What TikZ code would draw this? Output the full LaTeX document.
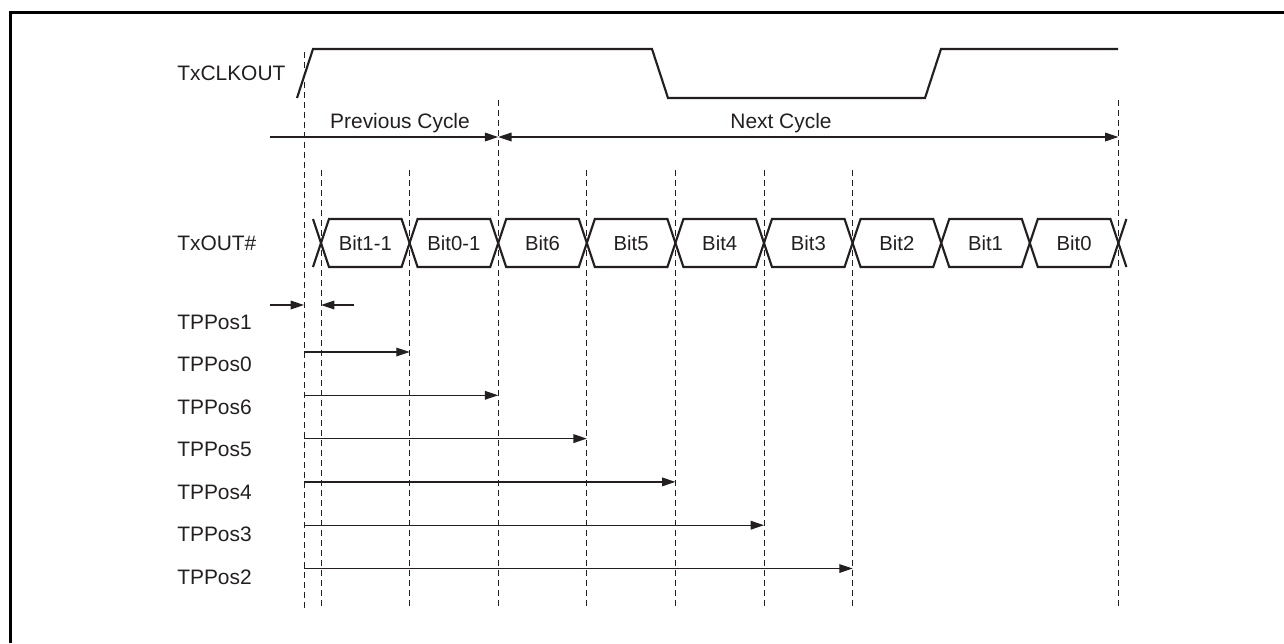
\documentclass[tikz,border=0pt]{standalone}
\usepackage{fontspec}
\setmainfont{Liberation Sans}
\usetikzlibrary{arrows.meta,calc}
\definecolor{ink}{HTML}{231F20}
\begin{document}
\begin{tikzpicture}[x=0.75pt,y=-0.75pt,
  every node/.style={font=\fontsize{15.7}{18}\selectfont, text=ink, inner sep=0pt},
  bitlabel/.style={font=\fontsize{15.2}{18}\selectfont},
  sig/.style={draw=ink, line width=1.6pt, line join=miter},
  gridline/.style={draw=ink, line width=0.75pt, dash pattern=on 4.5pt off 3pt},
  dim/.style={draw=ink, line width=0.9pt, -{Triangle[length=10pt,width=6.5pt]}},
  dimboth/.style={draw=ink, line width=0.9pt, {Triangle[length=10pt,width=6.5pt]}-{Triangle[length=10pt,width=6.5pt]}},
  rowlabel/.style={anchor=west}
]
\useasboundingbox (0,0) rectangle (1284,643);
% frame
\draw[line width=2.5pt] (10.5,643) -- (10.5,12.5) -- (1284,12.5);

% clock
\draw[sig] (297,98) -- (313,49) -- (652,49) -- (668,98) -- (925,98) -- (941,49) -- (1118,49);

% grid coordinates
\coordinate (c) at (304,0);
\foreach \i in {0,...,9} {
  \coordinate (b\i) at ({321+88.6*\i},0);
}
% dashed vertical lines
\draw[gridline] (c |- 0,52) -- (c |- 0,610);
\foreach \i in {2,9} { \draw[gridline] (b\i |- 0,100) -- (b\i |- 0,610); }
\foreach \i in {0,1,3,4,5,6} { \draw[gridline] (b\i |- 0,170) -- (b\i |- 0,610); }

% row labels
\node[rowlabel] (lclk) at (177,73.5) {TxCLKOUT};
\node[rowlabel] (lout) at (177,243) {TxOUT\#};
\node[rowlabel] (lp1) at (177,322) {TPPos1};
\node[rowlabel] (lp0) at (177,364.5) {TPPos0};
\node[rowlabel] (lp6) at (177,407) {TPPos6};
\node[rowlabel] (lp5) at (177,449.5) {TPPos5};
\node[rowlabel] (lp4) at (177,492) {TPPos4};
\node[rowlabel] (lp3) at (177,534.5) {TPPos3};
\node[rowlabel] (lp2) at (177,577) {TPPos2};

% cycle arrows
\coordinate (pstart) at (270,137);
\coordinate (pend) at (b2 |- 0,137);
\coordinate (nend) at (b9 |- 0,137);
\draw[dim] (pstart) -- (pend);
\draw[dimboth] (pend) -- (nend);
\node (prev) at (400,123) {Previous Cycle};
\node (next) at (781,123) {Next Cycle};

% data bits
\draw[sig] ($(b0)+(-8,219)$) -- ($(b0)+(0,243)$) -- ($(b0)+(-8,267)$);
\draw[sig] ($(b9)+(8,219)$) -- ($(b9)+(0,243)$) -- ($(b9)+(8,267)$);
\foreach \i [count=\j from 1] in {0,...,8} {
  \draw[sig] ($(b\i)+(0,243)$) -- ($(b\i)+(8,219)$) -- ($(b\j)+(-8,219)$) -- ($(b\j)+(0,243)$)
     -- ($(b\j)+(-8,267)$) -- ($(b\i)+(8,267)$) -- cycle;
}
\foreach \i/\t [count=\j from 1] in {0/Bit1-1,1/Bit0-1,2/Bit6,3/Bit5,4/Bit4,5/Bit3,6/Bit2,7/Bit1,8/Bit0} {
  \node[bitlabel] (bit\i) at ($(b\i)!0.5!(b\j)+(0,243)$) {\t};
}

% TPPos arrows
\coordinate (t1a) at (270,305);
\coordinate (t1b) at (354,305);
\draw[dim] (t1a) -- (c |- t1a);
\draw[dim] (t1b) -- (b0 |- t1b);
\foreach \k/\y in {1/352,2/395.3,3/438.6,4/481.9,5/525.2,6/568.5} {
  \coordinate (s\k) at (304,\y);
  \draw[dim] (s\k) -- (b\k |- s\k);
}
\end{tikzpicture}
\end{document}
